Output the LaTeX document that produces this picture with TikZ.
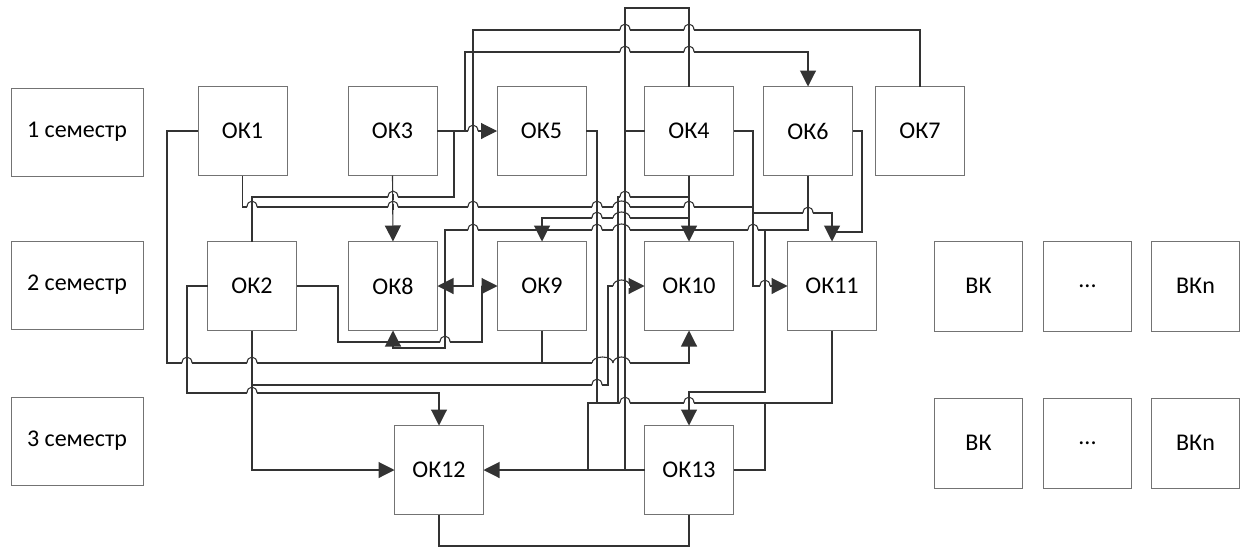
\documentclass[tikz,border=0pt]{standalone}
\usepackage{fontspec}
\setmainfont{Carlito}
\usetikzlibrary{arrows.meta, positioning}
\tikzset{
    font=\fontsize{24}{28}\selectfont,
    ok_box/.style={
        rectangle,
        draw=black!55,
        line width=0.9pt,
        fill=white,
        minimum width=89pt,
        minimum height=89pt,
        inner sep=0pt,
        outer sep=0pt,
        align=center
    },
    sem_box/.style={
        ok_box,
        minimum width=132pt,
        minimum height=88pt
    },
    vk_box/.style={
        ok_box,
        minimum width=88pt,
        minimum height=90pt
    },
    link_line/.style={
        draw=black!80,
        line width=1.1pt
    },
    link_arrow/.style={
        link_line,
        -{Triangle[length=16pt, width=16pt]}
    }
}
% hop of a horizontal line over one or two verticals (x1, x2, y)
\newcommand{\linehop}[3]{
    \fill[white] ({#1-5},{#3-2}) rectangle ({#2+5},{#3+2});
    \draw[link_line] (#1,{#3-3}) -- (#1,{#3+3}) (#2,{#3-3}) -- (#2,{#3+3});
    \draw[link_line] ({#1-5},#3) arc[start angle=180, end angle=0, x radius={((#2-#1)/2+5)*1pt}, y radius=6pt];
}

\begin{document}
\begin{tikzpicture}[x=1pt, y=-1pt]
\useasboundingbox (0,0) rectangle (1244,549);

% --- Semesters ---
\node[sem_box] (sem1) at (77,132) {1 семестр};
\node[sem_box, below=65pt of sem1] (sem2) {2 семестр};
\node[sem_box, below=68pt of sem2] (sem3) {3 семестр};

% --- Row 1 ---
\node[ok_box] (ok1) at (242.5,131) {ОК1};
\node[ok_box, right=61pt of ok1] (ok3) {ОК3};
\node[ok_box, right=60pt of ok3] (ok5) {ОК5};
\node[ok_box, right=58.5pt of ok5] (ok4) {ОК4};
\node[ok_box, right=30pt of ok4] (ok6) {ОК6};
\node[ok_box, right=23pt of ok6] (ok7) {ОК7};

% --- Row 2 ---
\node[ok_box] (ok2) at (252,286) {ОК2};
\node[ok_box, right=52pt of ok2] (ok8) {ОК8};
\node[ok_box, right=60pt of ok8] (ok9) {ОК9};
\node[ok_box, right=58pt of ok9] (ok10) {ОК10};
\node[ok_box, right=54pt of ok10] (ok11) {ОК11};
\node[vk_box, right=58pt of ok11] (vk2) {ВК};
\node[vk_box, right=21pt of vk2] (dots2) {...};
\node[vk_box, right=20pt of dots2] (vkn2) {ВКn};

% --- Row 3 ---
\node[ok_box, below=95pt of ok10] (ok13) {ОК13};
\node[ok_box, left=161pt of ok13] (ok12) {ОК12};
\node[vk_box, below=67pt of vk2] (vk3) {ВК};
\node[vk_box, below=67pt of dots2] (dots3) {...};
\node[vk_box, below=67pt of vkn2] (vkn3) {ВКn};

% --- Junctions ---
\coordinate (ok3_up) at (465,131);
\coordinate (ok3_dn) at (454,131);
\coordinate (ok4_split) at (689,218);
\coordinate (ok6_split) at (765,230);
\coordinate (ok9_join) at (542,363);
\coordinate (ok2_split) at (252,385);
\coordinate (ok5_join) at (597,403);
\coordinate (ok11_join) at (588,470);
\coordinate (ok4_join) at (625,470);
\coordinate (ok10_feed) at (618,403);
\coordinate (ok10_top) at (689,197);
\coordinate (ok11_top) at (832,232);
\coordinate (ok13_join) at (765,403);

% --- Edges ---
\draw[link_line] (ok4.north) -- (689,8) -- (625,8) -- (ok4_join);
\draw[link_line] (ok4.west) -- (625,131);
\draw[link_arrow] (ok7.north) -- (920,30) -- (473,30) -- (473,286) -- (ok8.east);
\draw[link_arrow] (ok3.east) -- (ok5.west);
\draw[link_arrow] (ok3_up) -- (465,52) -- (808,52) -- (ok6.north);
\draw[link_line] (ok3_dn) -- (454,197) -- (252,197) -- (ok2.north);
\draw[link_arrow] (ok3.south) -- (ok8.north);
\draw[link_arrow] (ok1.south) -- (242.5,207) -- (753,207) -- (753,213) -- (832,213) -- (ok11.north);
\draw[link_arrow] (ok4.east) -- (753,131) -- (753,286) -- (ok11.west);
\draw[link_arrow] (ok4.south) -- (ok10.north);
\draw[link_arrow] (ok4_split) -- (542,218) -- (ok9.north);
\draw[link_line] (ok6.east) -- (862,131) -- (862,232) -- (ok11_top);
\draw[link_arrow] (ok6.south) -- (808,230) -- (765,230) -- (765,392) -- (689,392) -- (ok13.north);
\draw[link_arrow] (ok6_split) -- (445,230) -- (445,348) -- (393,348) -- (ok8.south);
\draw[link_arrow] (ok2.east) -- (338,286) -- (338,342) -- (482,342) -- (482,286) -- (ok9.west);
\draw[link_arrow] (ok1.west) -- (167,131) -- (167,363) -- (689,363) -- (ok10.south);
\draw[link_line] (ok9.south) -- (ok9_join);
\draw[link_arrow] (ok2.west) -- (187,286) -- (187,393) -- (439,393) -- (ok12.north);
\draw[link_arrow] (ok2.south) -- (252,470) -- (ok12.west);
\draw[link_arrow] (ok2_split) -- (608,385) -- (608,286) -- (ok10.west);
\draw[link_line] (ok5.east) -- (597,131) -- (ok5_join);
\draw[link_line] (ok11.south) -- (832,403) -- (588,403) -- (ok11_join);
\draw[link_line] (ok10_feed) -- (618,197) -- (ok10_top);
\draw[link_arrow] (ok13.west) -- (ok12.east);
\draw[link_line] (ok13.east) -- (765,470) -- (ok13_join);
\draw[link_line] (ok13.south) -- (689,546) -- (439,546) -- (ok12.south);

% --- Hops ---
\linehop{625}{625}{30} \linehop{689}{689}{30}
\linehop{625}{625}{52} \linehop{689}{689}{52}
\linehop{473}{473}{131}
\linehop{393}{393}{197} \linehop{625}{625}{197}
\linehop{252}{252}{207} \linehop{393}{393}{207} \linehop{473}{473}{207}
\linehop{597}{597}{207} \linehop{618}{625}{207} \linehop{689}{689}{207}
\linehop{808}{808}{213}
\linehop{597}{597}{218} \linehop{618}{625}{218}
\linehop{473}{473}{230} \linehop{597}{597}{230} \linehop{618}{625}{230} \linehop{753}{753}{230}
\linehop{618}{625}{286} \linehop{765}{765}{286}
\linehop{445}{445}{342}
\linehop{187}{187}{363} \linehop{252}{252}{363} \linehop{597}{608}{363} \linehop{618}{625}{363}
\linehop{597}{597}{385}
\linehop{252}{252}{393}
\linehop{625}{625}{403} \linehop{689}{689}{403}

\end{tikzpicture}
\end{document}
